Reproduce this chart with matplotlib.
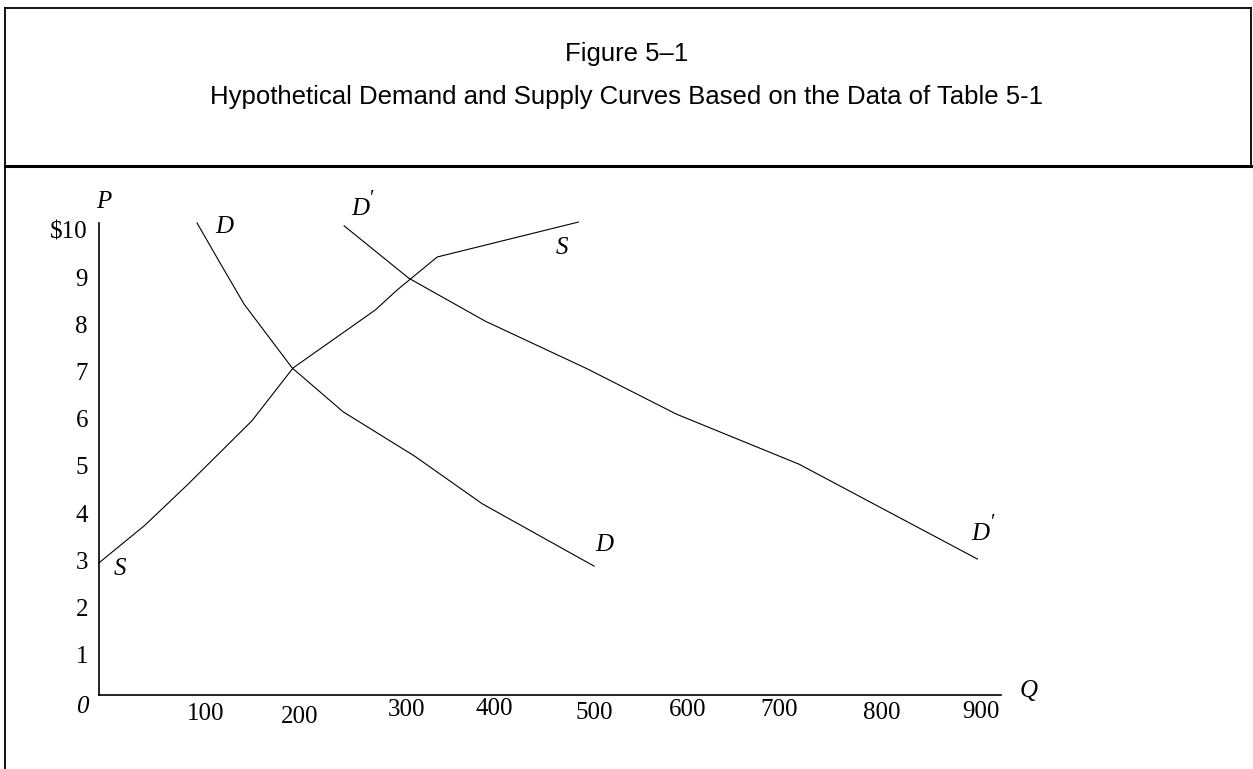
import matplotlib
matplotlib.use("Agg")
import matplotlib.pyplot as plt
from matplotlib.lines import Line2D
from matplotlib.transforms import ScaledTranslation

# quantity Q, price P
demand_q = [100, 123, 148, 197, 249, 322, 391, 505]
demand_p = [10.0, 9.17, 8.28, 6.93, 6.0, 5.06, 4.05, 2.73]

supply_q = [0, 47, 90, 156, 198, 282, 304, 345, 489]
supply_p = [2.8, 3.6, 4.45, 5.81, 6.93, 8.16, 8.58, 9.28, 10.02]

demand2_q = [250, 316, 394, 498, 589, 714, 800, 896]
demand2_p = [9.94, 8.83, 7.92, 6.91, 5.95, 4.89, 3.94, 2.88]

x_ticks = [100, 200, 300, 400, 500, 600, 700, 800, 900]
y_ticks = [1, 2, 3, 4, 5, 6, 7, 8, 9, 10]
y_labels = ["1", "2", "3", "4", "5", "6", "7", "8", "9", "\\$10"]

title1 = "Figure 5\u20131"
title2 = "Hypothetical Demand and Supply Curves Based on the Data of Table 5-1"

W, H = 1253, 769
fig = plt.figure(figsize=(W / 100, H / 100), dpi=100)
fig.patch.set_facecolor("white")

# box around the figure (pixel coords -> figure fraction)
def fx(px):
    return px / W

def fy(py):
    return 1 - py / H

fig.add_artist(Line2D([fx(5), fx(1251)], [fy(8), fy(8)], color="black", lw=1.3))
fig.add_artist(Line2D([fx(5), fx(5)], [fy(8), fy(769)], color="black", lw=1.3))
fig.add_artist(Line2D([fx(1251), fx(1251)], [fy(8), fy(167)], color="black", lw=1.3))
fig.add_artist(Line2D([fx(5), fx(1253)], [fy(166), fy(166)], color="black", lw=2.2))

fig.text(0.5, fy(54), title1, ha="center", va="center",
         family="Liberation Sans", fontsize=18.5)
fig.text(0.5, fy(97), title2, ha="center", va="center",
         family="Liberation Sans", fontsize=18.5)

# axes: Q=0 at x=99px, P=0 at y=695px
ax = fig.add_axes([fx(99), fy(695), 902 / W, 472 / H])
ax.set_xlim(0, 920)
ax.set_ylim(0, 10.0)
for side in ["top", "right"]:
    ax.spines[side].set_visible(False)
for side in ["left", "bottom"]:
    ax.spines[side].set_linewidth(1.2)

ax.plot(demand_q, demand_p, color="black", lw=0.8, clip_on=False)
ax.plot(supply_q, supply_p, color="black", lw=0.8, clip_on=False)
ax.plot(demand2_q, demand2_p, color="black", lw=0.8, clip_on=False)

serif = "Liberation Serif"
ax.set_xticks(x_ticks)
ax.set_xticklabels([str(v) for v in x_ticks], family=serif, fontsize=18)
ax.set_yticks(y_ticks)
ax.set_yticklabels(y_labels, family=serif, fontsize=18)
ax.tick_params(axis="both", length=0)
ax.tick_params(axis="x", pad=4)
ax.tick_params(axis="y", pad=8)

# the hand-set labels sit a little off the ticks
x_dx = [9, 5, 13, 3, 5, 0, -6, -2, 0]
x_dy = [2, 5, -2, -3, 1, -2, -2, 1, 0]
for lab, dx, dy in zip(ax.get_xticklabels(), x_dx, x_dy):
    lab.set_transform(lab.get_transform() + ScaledTranslation(dx / 100, -dy / 100, fig.dpi_scale_trans))
for lab in ax.get_yticklabels():
    lab.set_transform(lab.get_transform() + ScaledTranslation(0, -7 / 100, fig.dpi_scale_trans))

it = dict(family=serif, style="italic", fontsize=18, ha="center", va="center")
pr = dict(family=[serif, "DejaVu Serif"], fontsize=15, ha="center", va="center")
ax.text(5, 10.44, "P", clip_on=False, **it)
ax.text(948, 0.08, "Q", clip_on=False, **it)
ax.text(-17, -0.25, "0", clip_on=False, **it)
ax.text(128, 9.92, "D", clip_on=False, **it)
ax.text(515, 3.18, "D", clip_on=False, **it)
ax.text(266, 10.3, "D", clip_on=False, **it)
ax.text(279, 10.5, "\u2032", clip_on=False, **pr)
ax.text(899, 3.41, "D", clip_on=False, **it)
ax.text(912, 3.64, "\u2032", clip_on=False, **pr)
ax.text(472, 9.47, "S", clip_on=False, **it)
ax.text(21, 2.67, "S", clip_on=False, **it)

fig.savefig("out.png", dpi=100)
